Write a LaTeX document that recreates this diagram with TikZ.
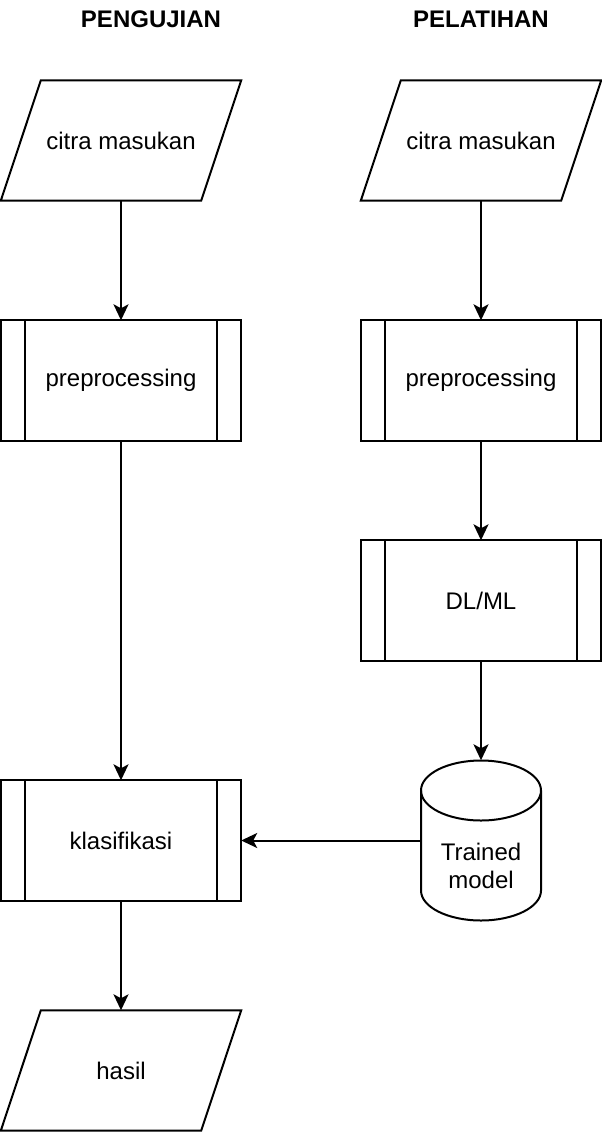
\documentclass[tikz,border=0pt]{standalone}
\usepackage{fontspec}
\setmainfont{Liberation Sans}
\usetikzlibrary{arrows.meta}
\begin{document}
\begin{tikzpicture}[x=1pt,y=-1pt,
  lw/.style={line width=2pt},
  shp/.style={minimum width=240pt,minimum height=120pt,inner sep=0pt,font=\fontsize{24}{28}\selectfont},
  ttl/.style={font=\fontsize{24}{28}\selectfont\bfseries,inner sep=0pt},
  arr/.style={lw,-{Stealth[length=16pt,width=15pt,inset=4pt]}}]
\useasboundingbox (0,0) rectangle (602,1132);
\node[ttl] (t1) at (151,19) {PENGUJIAN};
\node[ttl] (t2) at (481,19) {PELATIHAN};
% left column
\node[shp] (inL) at (121,140.5) {citra masukan};
\node[shp] (preL) at (121,380.5) {preprocessing};
\node[shp] (kls) at (121,840.5) {klasifikasi};
\node[shp] (hasil) at (121,1070.5) {hasil};
% right column
\node[shp] (inR) at (481,140.5) {citra masukan};
\node[shp] (preR) at (481,380.5) {preprocessing};
\node[shp] (dl) at (481,600.5) {DL/ML};
\node[minimum width=120pt,minimum height=160pt,inner sep=0pt] (cyl) at (481,840.5) {};
\node[font=\fontsize{24}{28}\selectfont,align=center,inner sep=0pt] (cyltxt) at (481,866) {Trained\\model};
% parallelograms
\foreach \n in {inL,inR,hasil}{
  \draw[lw,line join=miter] ([xshift=40pt]\n.north west) -- (\n.north east) -- ([xshift=-40pt]\n.south east) -- (\n.south west) -- cycle;
}
% process boxes
\foreach \n in {preL,preR,dl,kls}{
  \draw[lw] (\n.north west) rectangle (\n.south east);
  \draw[lw] ([xshift=24pt]\n.north west) -- ([xshift=24pt]\n.south west);
  \draw[lw] ([xshift=-24pt]\n.north east) -- ([xshift=-24pt]\n.south east);
}
% cylinder
\draw[lw] (421,790.5) -- (421,890.5) arc[start angle=180,end angle=360,x radius=60pt,y radius=30pt] -- (541,790.5);
\draw[lw] (481,790.5) ellipse[x radius=60pt,y radius=30pt];
% connectors
\draw[arr] (inL.south) -- (preL.north);
\draw[arr] (preL.south) -- (kls.north);
\draw[arr] (kls.south) -- (hasil.north);
\draw[arr] (inR.south) -- (preR.north);
\draw[arr] (preR.south) -- (dl.north);
\draw[arr] (dl.south) -- (cyl.north);
\draw[arr] (cyl.west) -- (kls.east);
\end{tikzpicture}
\end{document}
